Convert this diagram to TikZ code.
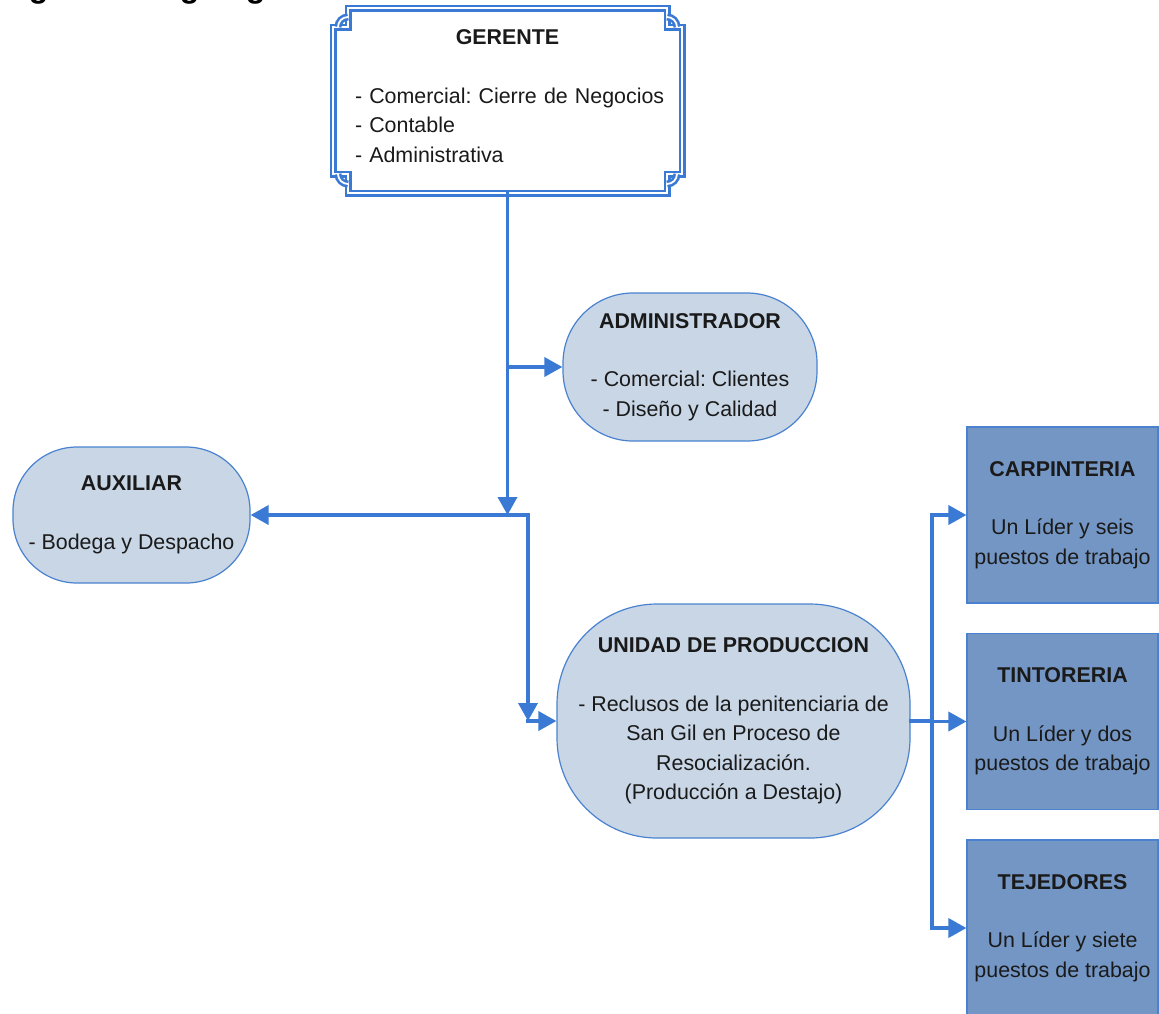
\documentclass[tikz,border=0pt]{standalone}
\usepackage{fontspec}
\setmainfont{Liberation Sans}
\usetikzlibrary{arrows.meta}
\frenchspacing

\definecolor{azul}{HTML}{3A7AD4}
\definecolor{claro}{HTML}{C8D6E6}
\definecolor{oscuro}{HTML}{7496C4}
\definecolor{borde}{HTML}{4A82D0}
\definecolor{texto}{HTML}{1A1A1A}

\begin{document}
\begin{tikzpicture}[x=0.5pt, y=-0.5pt,
            font=\fontsize{10.7}{14.7}\selectfont, text=texto,
            marco/.style={draw=azul, line width=1.3pt, double=white, double distance=0.9pt},
            ovalo/.style={draw=borde, fill=claro, line width=0.6pt, align=center, inner sep=0pt},
            caja/.style={draw=borde, fill=oscuro, line width=0.6pt, align=center, inner sep=0pt,
                minimum width=95.5pt, minimum height=88pt},
            tramo/.style={draw=azul, line width=1.8pt, line cap=rect},
            flecha/.style={tramo, -{Triangle[length=9pt,width=9.5pt]}}]

            \useasboundingbox (0,0) rectangle (1159,1013);

            \node[anchor=base west, inner sep=0pt, font=\fontsize{16}{19}\selectfont\bfseries, text=black] (titulo) at (0,-3) {Figura 1. Organigrama};

            \draw[marco, fill=white] (348,8) -- (667,8) -- (667,27) -- (682,27) -- (682,174) -- (667,174) -- (667,193) -- (348,193) -- (348,174) -- (333,174) -- (333,27) -- (348,27) -- cycle;
            \draw[marco] (338,27) arc[start angle=180, end angle=90, radius=5pt];
            \draw[marco] (667,17) arc[start angle=90, end angle=0, radius=5pt];
            \draw[marco] (677,174) arc[start angle=0, end angle=-90, radius=5pt];
            \draw[marco] (348,184) arc[start angle=270, end angle=180, radius=5pt];

            \node[text width=152.5pt, align=center, minimum width=174.5pt, minimum height=92.5pt, inner sep=0pt] (gerente) at (507.5,100.5)
                {\textbf{GERENTE}\\[14.7pt]\begin{tabular}[t]{@{}l@{}}- Comercial: Cierre de Negocios\\- Contable\\- Administrativa\end{tabular}};

            \node[ovalo, minimum width=127pt, minimum height=74pt, rounded corners=35pt] (admin) at (690,367)
                {\textbf{ADMINISTRADOR}\\[14.7pt]- Comercial: Clientes\\- Diseño y Calidad};
            \node[ovalo, minimum width=118.5pt, minimum height=68pt, rounded corners=32pt] (aux) at (131.5,515)
                {\textbf{AUXILIAR}\\[14.7pt]- Bodega y Despacho};
            \node[ovalo, minimum width=176.5pt, minimum height=117pt, rounded corners=50pt] (prod) at (733.5,721)
                {\textbf{UNIDAD DE PRODUCCION}\\[14.7pt]- Reclusos de la penitenciaria de\\San Gil en Proceso de\\Resocialización.\\(Producción a Destajo)};

            \node[caja] (carp) at (1062.5,515) {\textbf{CARPINTERIA}\\[14.7pt]Un Líder y seis\\puestos de trabajo};
            \node[caja] (tint) at (1062.5,721.5) {\textbf{TINTORERIA}\\[14.7pt]Un Líder y dos\\puestos de trabajo};
            \node[caja] (tej) at (1062.5,928) {\textbf{TEJEDORES}\\[14.7pt]Un Líder y siete\\puestos de trabajo};

            \coordinate (cruce) at (528,515);
            \coordinate (barra) at (932,515);

            \draw[flecha] (gerente.south) -- (gerente.south |- aux.east);
            \draw[flecha] (gerente.south |- admin.west) -- (admin.west);
            \draw[flecha] (cruce) -- (aux.east);
            \draw[flecha] (cruce) -- (cruce |- prod.west);
            \draw[flecha] (cruce |- prod.west) -- (prod.west);

            \draw[tramo] (prod.east) -- (barra |- prod.east);
            \draw[tramo] (barra) -- (barra |- tej.west);
            \draw[flecha] (barra) -- (carp.west);
            \draw[flecha] (barra |- tint.west) -- (tint.west);
            \draw[flecha] (barra |- tej.west) -- (tej.west);
        \end{tikzpicture}
\end{document}
